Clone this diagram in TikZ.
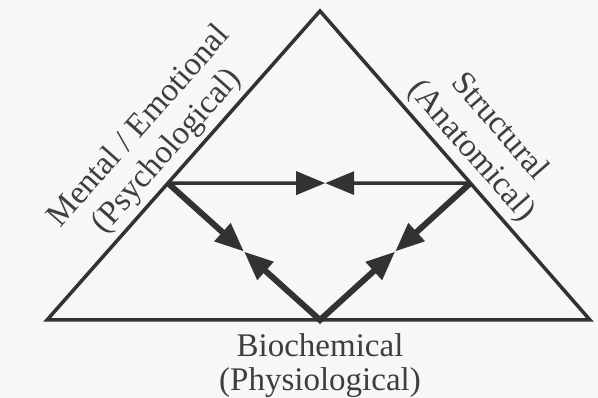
\documentclass[tikz,border=0pt]{standalone}
\usepackage{fontspec}
\setmainfont{Liberation Serif}
\usetikzlibrary{arrows.meta,calc,positioning}
\definecolor{inkgray}{RGB}{50,50,50}
\definecolor{textgray}{RGB}{62,62,62}
\definecolor{paper}{RGB}{247,247,247}

\begin{document}
\begin{tikzpicture}[
  x=1pt, y=-1pt,
  edge/.style={draw=inkgray, line width=3.5pt, line join=miter},
  link/.style={draw=inkgray, line width=3.5pt},
  bold/.style={draw=inkgray, line width=6pt},
  arr/.style={-{Triangle[length=29pt, width=23pt]}},
  arrs/.style={{Triangle[length=29pt, width=23pt]}-{Triangle[length=29pt, width=23pt]}},
  lbl/.style={font=\fontsize{33}{34}\selectfont, text=textgray, align=center, inner sep=6pt},
  side/.style={lbl, font=\fontsize{33}{37}\selectfont}
]
\fill[paper] (0,0) rectangle (598,398);
\useasboundingbox (0,0) rectangle (598,398);

\coordinate (top) at (320,11);
\coordinate (bl) at (47,320);
\coordinate (br) at (590,320);
\coordinate (bot) at (320,320);
\coordinate (il) at ($(bl)!0.443!(top)$);
\coordinate (ir) at ($(br)!0.443!(top)$);
\coordinate (mtop) at ($(il)!0.52!(ir)$);
\coordinate (mleft) at ($(il)!0.5!(bot)$);
\coordinate (mright) at ($(ir)!0.5!(bot)$);

\draw[edge] (bl) -- (top) -- (br) -- cycle;

\draw[link, arr] (il) -- (mtop);
\draw[link, arr] (ir) -- (mtop);
\draw[bold, arr] (il) -- (mleft);
\draw[bold, arr] (ir) -- (mright);
\draw[bold, arrs, line join=miter] (mleft) -- (bot) -- (mright);

\path (bl) -- (top) node[side, midway, sloped, above] (mental) {Mental / Emotional\\(Psychological)};
\path (top) -- (br) node[side, midway, sloped, above] (struct) {Structural\\(Anatomical)};
\node[lbl, below=7pt of bot] (bio) {Biochemical\\(Physiological)};
\end{tikzpicture}
\end{document}
